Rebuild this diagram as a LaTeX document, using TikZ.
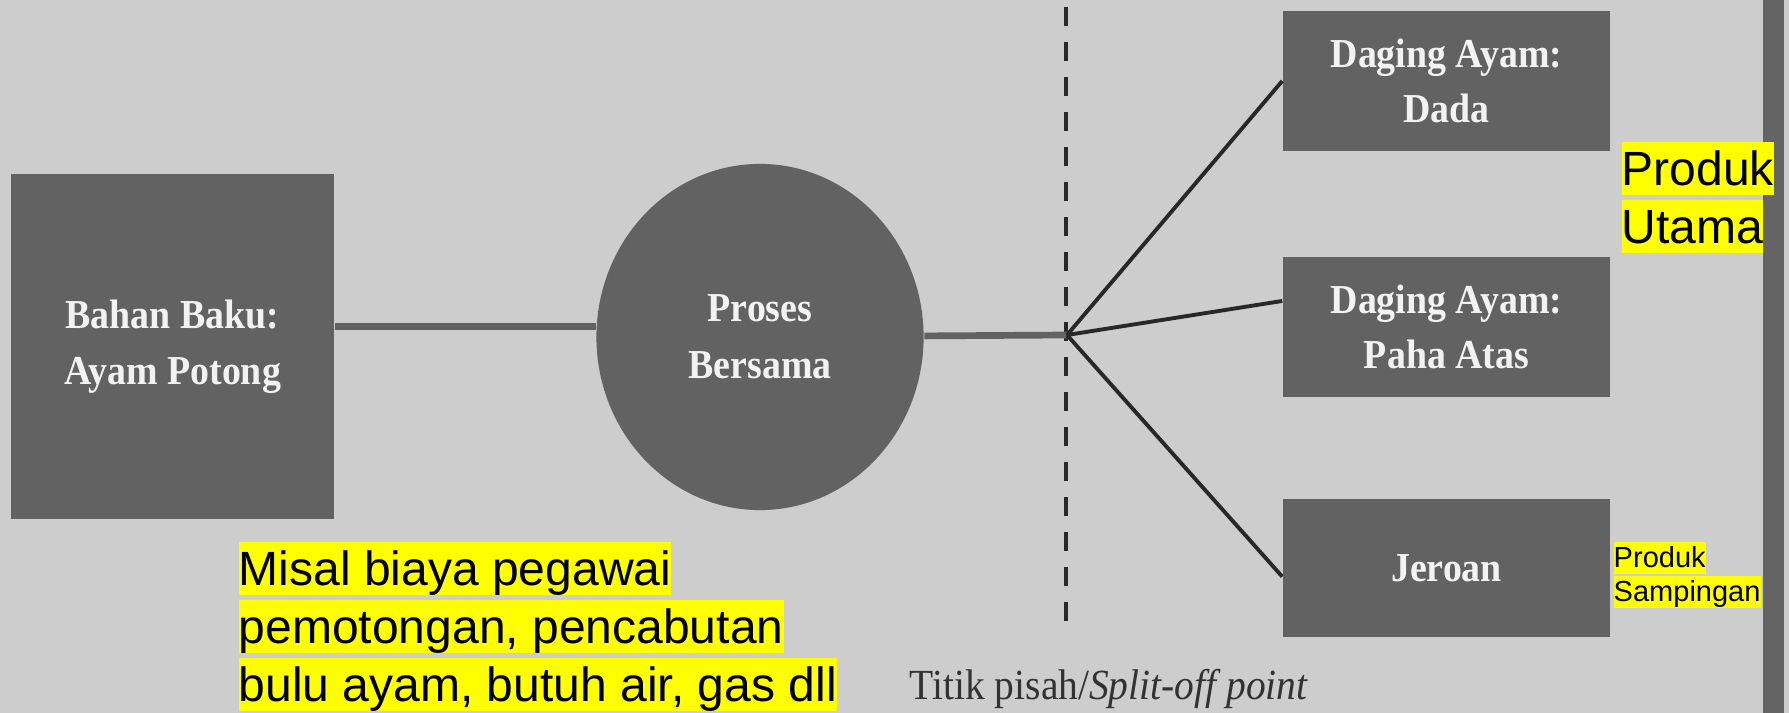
\documentclass[tikz,border=0pt]{standalone}
\usepackage{fontspec}
\setmainfont{Liberation Serif}
\newfontfamily\arialFont{Liberation Sans}
\newfontfamily\boxFont{Liberation Serif}[FakeStretch=0.92]
\usepackage{tikz}
\usetikzlibrary{shapes.geometric}
\definecolor{bgGray}{RGB}{205,205,205}
\definecolor{boxGray}{RGB}{98,98,98}
\definecolor{boxText}{RGB}{242,242,242}
\definecolor{lineDark}{RGB}{40,40,40}
\definecolor{labelGray}{RGB}{50,50,50}
\definecolor{frameGray}{RGB}{100,100,100}
\definecolor{markYellow}{RGB}{255,255,0}

\begin{document}
\begin{tikzpicture}[x=0.01cm, y=-0.01cm,
			darkBox/.style={shape=rectangle, fill=boxGray, inner sep=0pt, text=boxText, align=center, font=\boxFont\bfseries\fontsize{11.7}{15.8}\selectfont},
			procDisc/.style={shape=ellipse, fill=boxGray, inner sep=0pt, minimum width=3.27cm, minimum height=3.46cm, text=boxText, align=center, font=\boxFont\bfseries\fontsize{11.7}{16.2}\selectfont},
			feedLine/.style={draw=boxGray, line width=1.9pt},
			splitLine/.style={draw=lineDark, line width=1.1pt},
			splitDash/.style={draw=lineDark, line width=1.1pt, dash pattern=on 0.19cm off 0.16cm},
			hiBig/.style={fill=markYellow, inner sep=0pt, anchor=north west, text height=0.434cm, text depth=0.102cm, font=\arialFont\fontsize{13.66}{16.5}\selectfont},
			hiSmall/.style={fill=markYellow, inner sep=0pt, anchor=north west, text height=0.262cm, text depth=0.062cm, font=\arialFont\fontsize{8.25}{9.7}\selectfont}]
  \fill[bgGray] (0,0) rectangle (1789,713);
  \fill[frameGray] (1763,0) rectangle (1784,713);
  % boxes and process
  \node[darkBox, minimum width=3.23cm, minimum height=3.45cm] (rawBox) at (172.5,346.5) {Bahan Baku:\\Ayam Potong};
  \node[procDisc] (procCircle) at (760,337) {Proses\\Bersama};
  \node[darkBox, minimum width=3.27cm, minimum height=1.4cm] (dadaBox) at (1446.5,81) {Daging Ayam:\\Dada};
  \node[darkBox, minimum width=3.27cm, minimum height=1.4cm] (pahaBox) at (1446.5,327) {Daging Ayam:\\Paha Atas};
  \node[darkBox, minimum width=3.27cm, minimum height=1.38cm] (jeroanBox) at (1446.5,568) {Jeroan};
  % split-off point
  \coordinate (splitPt) at (1067,335);
  \coordinate (dashTop) at (1066,7);
  \coordinate (dashEnd) at (1066,628);
  \draw[splitDash] (dashTop) -- (dashEnd);
  \node[anchor=base west, inner sep=0pt, text=labelGray, font=\boxFont\fontsize{12.2}{14}\selectfont] (splitLbl) at (909,699) {Titik pisah/\textit{Split-off point}};
  \draw[feedLine] ([yshift=0.2cm]rawBox.east) -- ([yshift=0.2cm]rawBox.east -| procCircle.west);
  \draw[feedLine] (procCircle) -- (splitPt);
  \draw[splitLine] (splitPt) -- (dadaBox.west);
  \draw[splitLine] (splitPt) -- (pahaBox.171);
  \draw[splitLine] (splitPt) -- (jeroanBox.183);
  % notes
  \node[hiBig] (noteA) at (238,541) {Misal biaya pegawai~};
  \node[hiBig] (noteB) at (238,599) {pemotongan, pencabutan~};
  \node[hiBig] (noteC) at (238,657) {bulu ayam, butuh air, gas dll};
  \node[hiBig] (mainA) at (1621,141) {Produk~};
  \node[hiBig] (mainB) at (1621,199) {Utama};
  \node[hiSmall] (sideA) at (1613,541) {Produk~};
  \node[hiSmall] (sideB) at (1613,575) {Sampingan};
\end{tikzpicture}
\end{document}
